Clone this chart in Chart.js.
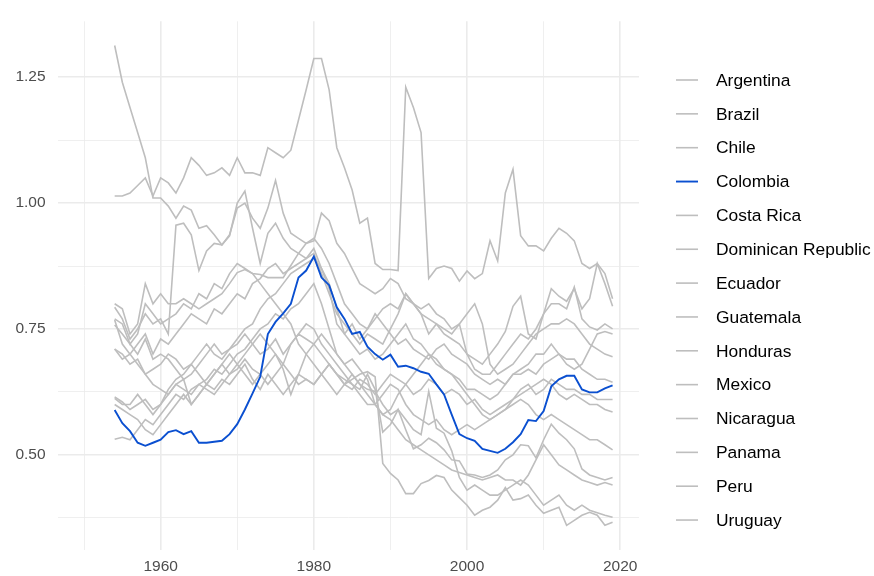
<!DOCTYPE html>
<html>
<head>
<meta charset="utf-8">
<script src="https://cdn.jsdelivr.net/npm/chart.js@4"></script>
<style>
  html, body { margin: 0; padding: 0; background: #ffffff; }
  #wrap { width: 874px; height: 576px; }
</style>
</head>
<body>
<div id="wrap"><canvas id="chart" width="874" height="576"></canvas></div>
<script>
// years covered by every series
const years = [1954,1955,1956,1957,1958,1959,1960,1961,1962,1963,
  1964,1965,1966,1967,1968,1969,1970,1971,1972,1973,
  1974,1975,1976,1977,1978,1979,1980,1981,1982,1983,
  1984,1985,1986,1987,1988,1989,1990,1991,1992,1993,
  1994,1995,1996,1997,1998,1999,2000,2001,2002,2003,
  2004,2005,2006,2007,2008,2009,2010,2011,2012,2013,
  2014,2015,2016,2017,2018,2019];

const countries = ['Argentina','Brazil','Chile','Colombia','Costa Rica','Dominican Republic',
  'Ecuador','Guatemala','Honduras','Mexico','Nicaragua','Panama','Peru','Uruguay'];

const highlight = 'Colombia';

const argentina = [1.313,1.24,1.19,1.14,1.09,1.01,1.01,0.994,0.97,0.994,
  0.986,0.95,0.955,0.937,0.917,0.937,0.99,1.0,0.97,0.95,
  0.99,1.045,0.98,0.94,0.93,0.92,0.925,0.98,0.965,0.92,
  0.90,0.87,0.84,0.83,0.82,0.83,0.85,0.84,0.81,0.80,
  0.79,0.80,0.78,0.77,0.75,0.76,0.70,0.69,0.68,0.70,
  0.72,0.745,0.795,0.815,0.74,0.73,0.78,0.83,0.815,0.805,
  0.83,0.79,0.81,0.88,0.84,0.795];
const brazil = [1.014,1.014,1.02,1.035,1.05,1.014,1.05,1.04,1.02,1.05,
  1.09,1.075,1.055,1.06,1.07,1.055,1.09,1.06,1.06,1.055,
  1.11,1.10,1.09,1.105,1.165,1.225,1.287,1.287,1.225,1.11,
  1.07,1.026,0.96,0.97,0.88,0.868,0.868,0.866,1.23,1.19,
  1.14,0.85,0.87,0.875,0.87,0.845,0.865,0.85,0.86,0.925,
  0.885,1.02,1.067,0.935,0.915,0.915,0.905,0.93,0.95,0.94,
  0.925,0.88,0.87,0.88,0.86,0.81];
const chile = [0.80,0.79,0.74,0.76,0.84,0.80,0.82,0.80,0.80,0.81,
  0.80,0.79,0.80,0.81,0.82,0.84,0.862,0.868,0.86,0.858,
  0.852,0.852,0.852,0.876,0.90,0.92,0.93,0.91,0.88,0.84,
  0.80,0.78,0.76,0.75,0.77,0.79,0.80,0.79,0.82,0.80,
  0.78,0.77,0.76,0.74,0.73,0.72,0.70,0.67,0.66,0.66,
  0.68,0.70,0.72,0.74,0.73,0.75,0.78,0.80,0.80,0.79,
  0.833,0.77,0.754,0.748,0.76,0.75];
const colombia = [0.589,0.563,0.547,0.524,0.518,0.524,0.53,0.545,0.549,0.541,
  0.547,0.524,0.524,0.526,0.528,0.541,0.561,0.59,0.622,0.655,
  0.74,0.764,0.781,0.80,0.852,0.866,0.894,0.852,0.837,0.793,
  0.77,0.74,0.744,0.715,0.70,0.689,0.699,0.675,0.677,0.672,
  0.665,0.661,0.64,0.62,0.58,0.541,0.533,0.528,0.512,0.508,
  0.504,0.512,0.525,0.541,0.569,0.567,0.587,0.636,0.65,0.657,
  0.657,0.63,0.624,0.624,0.632,0.638];
const costaRica = [0.793,0.77,0.73,0.75,0.78,0.76,0.77,0.74,0.956,0.96,
  0.937,0.866,0.905,0.92,0.917,0.935,1.0,1.024,0.95,0.88,
  0.94,0.96,0.93,0.91,0.90,0.89,0.91,0.87,0.83,0.76,
  0.74,0.76,0.73,0.75,0.78,0.76,0.74,0.72,0.73,0.71,
  0.70,0.69,0.71,0.72,0.70,0.69,0.68,0.66,0.65,0.64,
  0.65,0.64,0.66,0.66,0.67,0.66,0.68,0.69,0.70,0.68,
  0.67,0.68,0.71,0.74,0.745,0.74];
const dominicanRep = [0.768,0.72,0.70,0.72,0.74,0.70,0.73,0.72,0.74,0.76,
  0.78,0.77,0.76,0.79,0.78,0.80,0.82,0.81,0.84,0.85,
  0.87,0.88,0.86,0.87,0.88,0.89,0.90,0.86,0.82,0.78,
  0.76,0.74,0.72,0.74,0.73,0.72,0.75,0.78,0.82,0.80,
  0.78,0.74,0.76,0.75,0.74,0.76,0.78,0.80,0.76,0.68,
  0.66,0.67,0.68,0.70,0.72,0.74,0.75,0.76,0.76,0.77,
  0.76,0.74,0.72,0.71,0.70,0.695];
const ecuador = [0.758,0.74,0.72,0.70,0.73,0.69,0.70,0.69,0.67,0.65,
  0.66,0.68,0.70,0.72,0.70,0.71,0.73,0.75,0.76,0.79,
  0.81,0.82,0.84,0.86,0.87,0.88,0.89,0.87,0.84,0.79,
  0.74,0.72,0.70,0.71,0.69,0.70,0.72,0.74,0.76,0.73,
  0.72,0.70,0.68,0.67,0.66,0.65,0.63,0.63,0.62,0.61,
  0.62,0.64,0.66,0.67,0.68,0.70,0.70,0.72,0.70,0.69,
  0.69,0.67,0.66,0.65,0.65,0.644];
const guatemala = [0.71,0.69,0.70,0.68,0.66,0.67,0.68,0.70,0.69,0.67,
  0.68,0.70,0.72,0.70,0.69,0.71,0.72,0.74,0.72,0.70,
  0.71,0.73,0.70,0.72,0.74,0.73,0.72,0.70,0.68,0.66,
  0.64,0.63,0.65,0.64,0.62,0.64,0.66,0.65,0.64,0.62,
  0.63,0.65,0.64,0.62,0.63,0.62,0.60,0.61,0.59,0.58,
  0.59,0.60,0.61,0.63,0.64,0.62,0.63,0.65,0.64,0.63,
  0.63,0.62,0.62,0.61,0.61,0.61];
const honduras = [0.612,0.60,0.60,0.62,0.60,0.58,0.60,0.63,0.65,0.66,
  0.68,0.66,0.64,0.66,0.68,0.66,0.67,0.69,0.67,0.66,
  0.64,0.66,0.68,0.72,0.74,0.76,0.75,0.72,0.70,0.68,
  0.66,0.64,0.62,0.60,0.60,0.58,0.59,0.62,0.64,0.66,
  0.68,0.70,0.69,0.67,0.66,0.64,0.62,0.60,0.58,0.57,
  0.58,0.59,0.61,0.62,0.63,0.64,0.65,0.64,0.62,0.61,
  0.62,0.61,0.60,0.60,0.59,0.585];
const mexico = [0.531,0.535,0.53,0.55,0.57,0.56,0.58,0.60,0.62,0.61,
  0.63,0.64,0.65,0.67,0.66,0.68,0.70,0.71,0.73,0.75,
  0.76,0.78,0.77,0.79,0.80,0.82,0.84,0.80,0.75,0.70,
  0.68,0.66,0.64,0.62,0.60,0.62,0.64,0.63,0.60,0.58,
  0.57,0.56,0.57,0.55,0.54,0.55,0.56,0.55,0.56,0.57,
  0.58,0.59,0.60,0.61,0.60,0.58,0.57,0.58,0.57,0.56,
  0.55,0.54,0.53,0.53,0.52,0.51];
const nicaragua = [0.60,0.59,0.58,0.57,0.55,0.54,0.56,0.58,0.60,0.62,
  0.60,0.62,0.64,0.63,0.65,0.64,0.66,0.68,0.65,0.63,
  0.66,0.64,0.62,0.64,0.66,0.65,0.64,0.66,0.68,0.66,
  0.65,0.64,0.63,0.66,0.63,0.545,0.56,0.59,0.55,0.512,
  0.52,0.533,0.524,0.51,0.49,0.488,0.462,0.46,0.455,0.46,
  0.47,0.49,0.50,0.52,0.518,0.494,0.53,0.561,0.543,0.53,
  0.512,0.472,0.46,0.455,0.45,0.455];
const panama = [0.71,0.70,0.68,0.69,0.66,0.64,0.63,0.62,0.64,0.65,
  0.60,0.62,0.64,0.66,0.68,0.70,0.68,0.66,0.64,0.66,
  0.68,0.70,0.67,0.62,0.66,0.70,0.72,0.74,0.72,0.70,
  0.68,0.69,0.67,0.65,0.60,0.58,0.57,0.55,0.53,0.52,
  0.51,0.50,0.49,0.48,0.47,0.465,0.46,0.455,0.45,0.455,
  0.46,0.45,0.45,0.44,0.46,0.49,0.52,0.50,0.48,0.47,
  0.46,0.45,0.445,0.44,0.445,0.44];
const peru = [0.77,0.76,0.72,0.74,0.80,0.78,0.76,0.77,0.78,0.80,
  0.79,0.82,0.81,0.84,0.83,0.86,0.88,0.87,0.86,0.84,
  0.82,0.80,0.78,0.76,0.72,0.70,0.68,0.66,0.64,0.62,
  0.64,0.66,0.64,0.63,0.626,0.60,0.58,0.59,0.57,0.55,
  0.54,0.626,0.553,0.543,0.508,0.455,0.43,0.44,0.43,0.42,
  0.42,0.43,0.44,0.45,0.44,0.42,0.40,0.41,0.42,0.40,
  0.39,0.40,0.39,0.385,0.38,0.376];
const uruguay = [0.615,0.605,0.59,0.60,0.61,0.59,0.60,0.62,0.64,0.63,
  0.62,0.64,0.63,0.62,0.64,0.66,0.68,0.70,0.72,0.74,
  0.72,0.70,0.68,0.66,0.64,0.65,0.64,0.66,0.68,0.66,
  0.64,0.65,0.66,0.665,0.655,0.483,0.463,0.45,0.423,0.423,
  0.443,0.449,0.459,0.455,0.43,0.415,0.40,0.38,0.39,0.396,
  0.41,0.435,0.41,0.413,0.42,0.40,0.384,0.39,0.396,0.36,
  0.37,0.38,0.386,0.38,0.36,0.366];

const seriesValues = [argentina, brazil, chile, colombia, costaRica, dominicanRep,
  ecuador, guatemala, honduras, mexico, nicaragua, panama, peru, uruguay];

// axis ticks (major ones get labels)
const xTicks = [1950, 1960, 1970, 1980, 1990, 2000, 2010, 2020];
const xLabels = [1960, 1980, 2000, 2020];
const yTicks = [0.375, 0.5, 0.625, 0.75, 0.875, 1.0, 1.125, 1.25];
const yLabels = [0.5, 0.75, 1.0, 1.25];

const GREY = '#bebebe';
const BLUE = '#0a4fd0';
const GRID = '#ebebeb';
const FONT = '"Liberation Sans", Arial, sans-serif';

const datasets = countries.map((name, i) => ({
  label: name,
  data: years.map((yr, j) => ({ x: yr, y: seriesValues[i][j] })),
  borderColor: name === highlight ? BLUE : GREY,
  borderWidth: name === highlight ? 1.9 : 1.6,
  pointRadius: 0,
  tension: 0,
  fill: false,
  order: name === highlight ? 0 : 1,
}));

// ggplot-style legend on the right
const sideLegend = {
  id: 'sideLegend',
  afterDraw: (chart) => {
    const { ctx } = chart;
    ctx.save();
    ctx.font = '17.4px ' + FONT;
    ctx.textBaseline = 'middle';
    ctx.textAlign = 'left';
    chart.data.datasets.forEach((ds, i) => {
      const y = 80 + i * 33.85;
      ctx.strokeStyle = ds.borderColor;
      ctx.lineWidth = ds.borderWidth;
      ctx.beginPath();
      ctx.moveTo(676, y);
      ctx.lineTo(698, y);
      ctx.stroke();
      ctx.fillStyle = '#000000';
      ctx.fillText(ds.label, 716, y + 1);
    });
    ctx.restore();
  },
};

new Chart(document.getElementById('chart'), {
  type: 'line',
  data: { datasets },
  options: {
    responsive: false,
    animation: false,
    devicePixelRatio: 1,
    layout: { padding: { top: 16, right: 235, bottom: 0, left: 0 } },
    plugins: {
      legend: { display: false },
      tooltip: { enabled: false },
    },
    scales: {
      x: {
        type: 'linear',
        min: 1946.55,
        max: 2022.45,
        afterBuildTicks: (scale) => {
          scale.ticks = xTicks.map((v) => ({ value: v }));
        },
        afterFit: (scale) => {
          scale.height = 26.5;
        },
        border: { display: false },
        grid: {
          color: GRID,
          drawTicks: false,
          lineWidth: (c) => (xLabels.includes(c.tick && c.tick.value) ? 1.6 : 0.8),
        },
        ticks: {
          padding: 8,
          autoSkip: false,
          maxRotation: 0,
          color: '#4d4d4d',
          font: { family: FONT, size: 15.5 },
          callback: (v) => (xLabels.includes(v) ? String(v) : ''),
        },
      },
      y: {
        type: 'linear',
        min: 0.312,
        max: 1.361,
        afterBuildTicks: (scale) => {
          scale.ticks = yTicks.map((v) => ({ value: v }));
        },
        afterFit: (scale) => {
          scale.width = 57.6;
        },
        border: { display: false },
        grid: {
          color: GRID,
          drawTicks: false,
          lineWidth: (c) => (yLabels.includes(c.tick && c.tick.value) ? 1.6 : 0.8),
        },
        ticks: {
          padding: 12,
          autoSkip: false,
          color: '#4d4d4d',
          font: { family: FONT, size: 15.5 },
          callback: (v) => (yLabels.includes(v) ? v.toFixed(2) : ''),
        },
      },
    },
  },
  plugins: [sideLegend],
});
</script>
</body>
</html>
